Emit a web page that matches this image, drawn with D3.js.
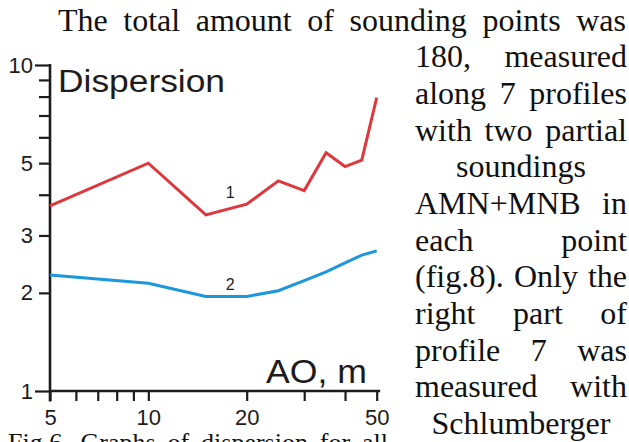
<!DOCTYPE html>
<html>
<head>
<meta charset="utf-8">
<script src="https://cdn.jsdelivr.net/npm/d3@7"></script>
<style>
  html, body { margin: 0; padding: 0; background: #ffffff; }
  svg { display: block; }
</style>
</head>
<body>
<svg id="chart" width="629" height="442"></svg>
<script>
// ---- data ----
const aoValues = [5, 10, 15, 20, 25, 30, 35, 40, 45, 50];
const dispersion1 = [3.70, 5.00, 3.47, 3.74, 4.41, 4.12, 5.38, 4.88, 5.11, 7.94];
const dispersion2 = [2.27, 2.14, 1.95, 1.95, 2.03, 2.18, 2.32, 2.47, 2.61, 2.69];
const xTicks = [5, 6, 7, 8, 9, 10, 20, 30, 40, 50];
const xTickLabels = [5, 10, 20, 50];
const yTicks = [1, 2, 3, 4, 5, 6, 7, 8, 9, 10];
const yTickLabels = [1, 2, 3, 5, 10];
const yTicksLong = [1, 10];
const seriesLabels = ["1", "2"];
const yTitle = "Dispersion";
const xTitle = "AO, m";

const topPartial = "graphs of apparent typology by group";
const topLine = "The total amount of sounding points was";
const sideLines = [
  ["180, measured", "justify"],
  ["along 7 profiles", "justify"],
  ["with two partial", "justify"],
  ["soundings", "center"],
  ["AMN+MNB in", "justify"],
  ["each point", "justify"],
  ["(fig.8). Only the", "justify"],
  ["right part of", "justify"],
  ["profile 7 was", "justify"],
  ["measured with", "justify"],
  ["Schlumberger", "center"]
];
const caption = "Fig.6. Graphs of dispersion for all";

// ---- drawing ----
const svg = d3.select("#chart");
const ink = "#1d1b1c";
const sans = "'Liberation Sans', Arial, Helvetica, sans-serif";
const serif = "'Liberation Serif', 'Times New Roman', serif";

const x = d3.scaleLog().domain([5, 50]).range([50, 376.7]);
const y = d3.scaleLog().domain([1, 10]).range([391, 65]);

// x axis
const gx = svg.append("g").attr("transform", "translate(0," + y(1) + ")");
gx.call(d3.axisBottom(x)
  .tickValues(xTicks)
  .tickSize(10)
  .tickSizeOuter(0)
  .tickPadding(8.5)
  .tickFormat(d => xTickLabels.includes(d) ? d : ""));
gx.select(".domain").remove();
gx.append("line").attr("x1", x(5)).attr("x2", x(50) + 3.5).attr("y1", 0).attr("y2", 0)
  .attr("stroke", ink).attr("stroke-width", 2.4);

// y axis: short ticks
const gy = svg.append("g").attr("transform", "translate(" + x(5) + ",0)");
gy.call(d3.axisLeft(y)
  .tickValues(yTicks.filter(d => !yTicksLong.includes(d)))
  .tickSize(11)
  .tickSizeOuter(0)
  .tickPadding(6)
  .tickFormat(d => yTickLabels.includes(d) ? d : ""));
gy.select(".domain").remove();
// y axis: long ticks
const gy2 = svg.append("g").attr("transform", "translate(" + x(5) + ",0)");
gy2.call(d3.axisLeft(y)
  .tickValues(yTicksLong)
  .tickSize(15)
  .tickSizeOuter(0)
  .tickPadding(2)
  .tickFormat(d => yTickLabels.includes(d) ? d : ""));
gy2.select(".domain").remove();
svg.selectAll(".tick line").attr("stroke", ink).attr("stroke-width", 2.2);
svg.selectAll(".tick text").attr("fill", ink).style("font-family", sans).style("font-size", "22px");
gy.append("line").attr("x1", 0).attr("x2", 0).attr("y1", y(10) - 1).attr("y2", y(1) + 10.5)
  .attr("stroke", ink).attr("stroke-width", 2.6);

// lines
const line = d3.line().x(d => x(d[0])).y(d => y(d[1]));
const s1 = aoValues.map((v, i) => [v, dispersion1[i]]);
const s2 = aoValues.map((v, i) => [v, dispersion2[i]]);
svg.append("path").attr("d", line(s1)).attr("fill", "none")
  .attr("stroke", "#e0373d").attr("stroke-width", 3).attr("stroke-linejoin", "miter");
svg.append("path").attr("d", line(s2)).attr("fill", "none")
  .attr("stroke", "#1b97da").attr("stroke-width", 3).attr("stroke-linejoin", "miter");

// series labels
svg.append("text").text(seriesLabels[0]).attr("x", x(17.8)).attr("y", y(3.74) - 6.5)
  .attr("text-anchor", "middle").attr("fill", ink)
  .style("font-family", sans).style("font-size", "16px");
svg.append("text").text(seriesLabels[1]).attr("x", x(17.8)).attr("y", y(1.95) - 6.5)
  .attr("text-anchor", "middle").attr("fill", ink)
  .style("font-family", sans).style("font-size", "16px");

// titles
svg.append("text").text(yTitle).attr("x", 58).attr("y", 92)
  .attr("fill", ink).attr("textLength", 167).attr("lengthAdjust", "spacingAndGlyphs")
  .style("font-family", sans).style("font-size", "31px");
svg.append("text").text(xTitle).attr("x", 266).attr("y", 382.5)
  .attr("fill", ink).attr("textLength", 101).attr("lengthAdjust", "spacingAndGlyphs")
  .style("font-family", sans).style("font-size", "34px");

// body text
function textLine(str, x0, x1, baseline, align, size) {
  const g = svg.append("g");
  if (align === "center") {
    g.append("text").text(str).attr("x", (x0 + x1) / 2).attr("y", baseline)
      .attr("text-anchor", "middle").attr("fill", "#111")
      .style("font-family", serif).style("font-size", size + "px");
    return;
  }
  const words = str.split(" ");
  const nodes = words.map(w => g.append("text").text(w).attr("y", baseline)
    .attr("fill", "#111").style("font-family", serif).style("font-size", size + "px"));
  const widths = nodes.map(n => n.node().getComputedTextLength());
  const total = d3.sum(widths);
  const gap = words.length > 1 ? (x1 - x0 - total) / (words.length - 1) : 0;
  let cx = x0;
  nodes.forEach((n, i) => { n.attr("x", cx); cx += widths[i] + gap; });
}

textLine(topPartial, 0, 629, -7, "justify", 32);
textLine(topLine, 58, 626, 30.7, "justify", 32);
sideLines.forEach((l, i) => textLine(l[0], 415, 627, 67.3 + i * 36.67, l[1], 32));
textLine(caption, 8, 388, 451, "justify", 26);
</script>
</body>
</html>
